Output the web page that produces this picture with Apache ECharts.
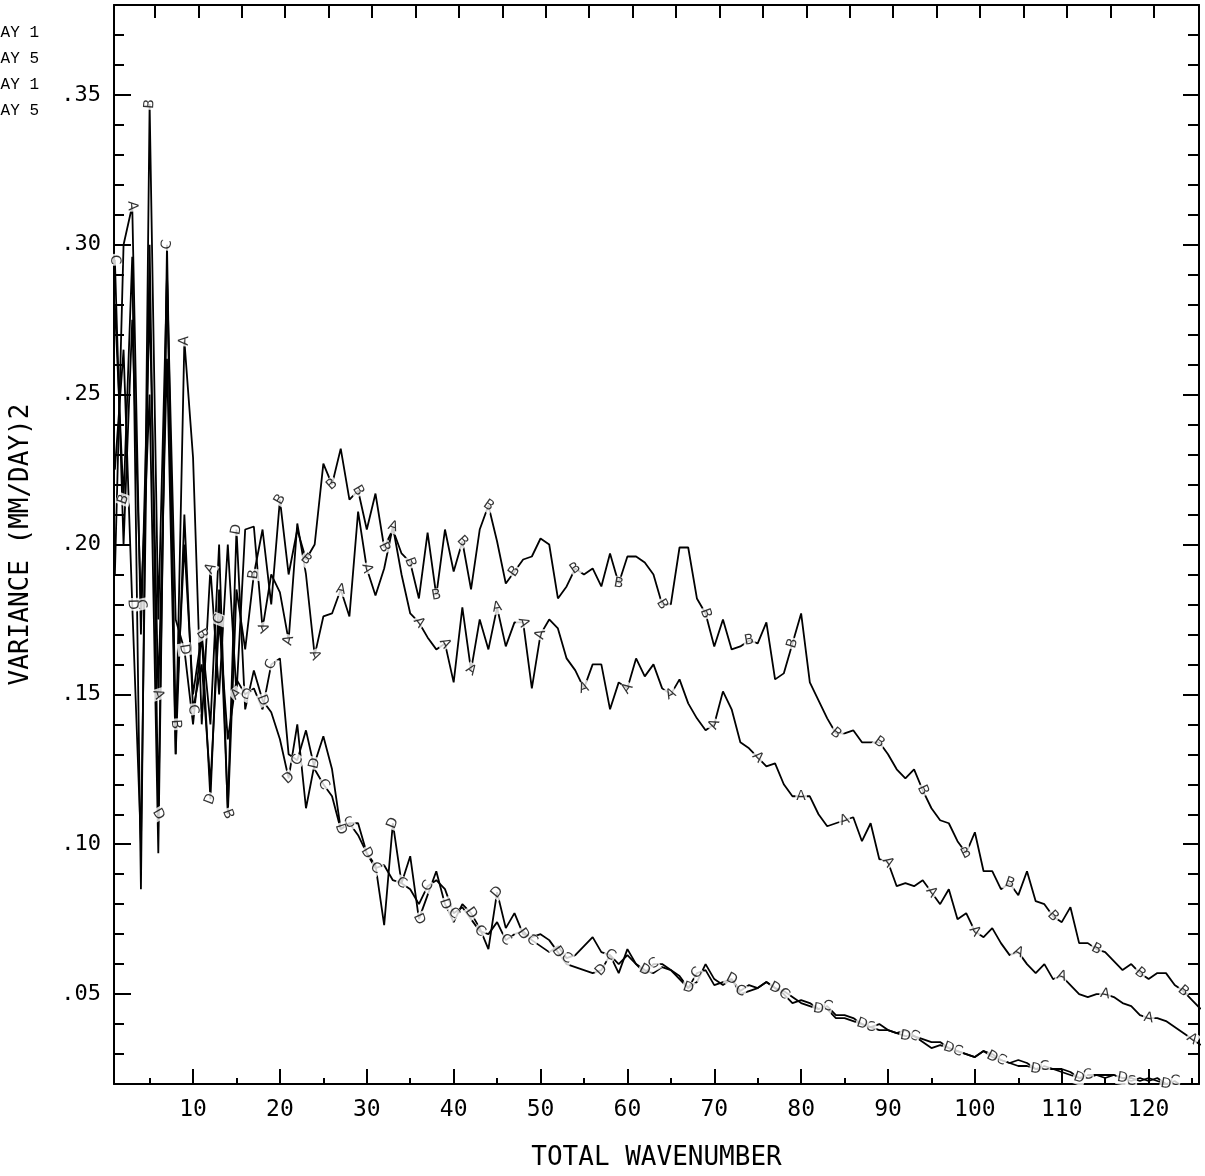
<!DOCTYPE html>
<html>
<head>
<meta charset="utf-8">
<title>Variance vs total wavenumber</title>
<script src="https://cdn.jsdelivr.net/npm/echarts@6.0.0/dist/echarts.min.js"></script>
<style>
  html, body { margin: 0; padding: 0; background: #fff; }
  #chart { width: 1205px; height: 1176px; }
</style>
</head>
<body>
<div id="chart"></div>
<script>
// variance per total wavenumber n = 1 .. 126
const seriesA = [
  0.190, 0.300, 0.313, 0.170, 0.280, 0.150, 0.262, 0.130, 0.268, 0.229,
  0.140, 0.192, 0.150, 0.200, 0.150, 0.205, 0.206, 0.172, 0.190, 0.184,
  0.168, 0.207, 0.190, 0.163, 0.176, 0.177, 0.185, 0.176, 0.211, 0.192,
  0.183, 0.192, 0.206, 0.190, 0.177, 0.174, 0.169, 0.165, 0.167, 0.154,
  0.179, 0.158, 0.175, 0.165, 0.179, 0.166, 0.174, 0.174, 0.152, 0.170,
  0.175, 0.172, 0.162, 0.158, 0.152, 0.160, 0.160, 0.145, 0.154, 0.152,
  0.162, 0.156, 0.160, 0.152, 0.150, 0.155, 0.147, 0.142, 0.138, 0.140,
  0.151, 0.145, 0.134, 0.132, 0.129, 0.126, 0.127, 0.120, 0.116, 0.116,
  0.116, 0.110, 0.106, 0.107, 0.108, 0.109, 0.101, 0.107, 0.095, 0.094,
  0.086, 0.087, 0.086, 0.088, 0.084, 0.080, 0.085, 0.075, 0.077, 0.071,
  0.069, 0.072, 0.067, 0.063, 0.064, 0.060, 0.057, 0.060, 0.055, 0.056,
  0.053, 0.050, 0.049, 0.050, 0.050, 0.049, 0.047, 0.046, 0.043, 0.042,
  0.042, 0.041, 0.039, 0.037, 0.035, 0.033
];
const seriesB = [
  0.280, 0.215, 0.296, 0.085, 0.347, 0.175, 0.290, 0.140, 0.200, 0.150,
  0.170, 0.140, 0.200, 0.110, 0.185, 0.165, 0.190, 0.205, 0.180, 0.215,
  0.190, 0.205, 0.195, 0.200, 0.227, 0.220, 0.232, 0.215, 0.218, 0.205,
  0.217, 0.199, 0.205, 0.197, 0.194, 0.182, 0.204, 0.183, 0.205, 0.191,
  0.201, 0.185, 0.205, 0.213, 0.201, 0.187, 0.191, 0.195, 0.196, 0.202,
  0.200, 0.182, 0.186, 0.192, 0.190, 0.192, 0.186, 0.197, 0.187, 0.196,
  0.196, 0.194, 0.190, 0.180, 0.180, 0.199, 0.199, 0.182, 0.177, 0.166,
  0.175, 0.165, 0.166, 0.168, 0.167, 0.174, 0.155, 0.157, 0.167, 0.177,
  0.154, 0.148, 0.142, 0.137, 0.137, 0.138, 0.134, 0.134, 0.134, 0.130,
  0.125, 0.122, 0.125, 0.118, 0.112, 0.108, 0.107, 0.101, 0.097, 0.104,
  0.091, 0.091, 0.085, 0.087, 0.083, 0.091, 0.081, 0.080, 0.076, 0.074,
  0.079, 0.067, 0.067, 0.065, 0.064, 0.061, 0.058, 0.060, 0.057, 0.055,
  0.057, 0.057, 0.053, 0.051, 0.048, 0.045
];
const seriesC = [
  0.295, 0.200, 0.275, 0.180, 0.250, 0.097, 0.300, 0.130, 0.210, 0.145,
  0.160, 0.120, 0.175, 0.135, 0.155, 0.150, 0.152, 0.145, 0.160, 0.162,
  0.130, 0.128, 0.138, 0.125, 0.120, 0.116, 0.105, 0.107, 0.107, 0.097,
  0.092, 0.093, 0.088, 0.087, 0.085, 0.080, 0.086, 0.088, 0.085, 0.077,
  0.079, 0.075, 0.071, 0.070, 0.074, 0.068, 0.070, 0.071, 0.068, 0.066,
  0.064, 0.066, 0.062, 0.063, 0.066, 0.069, 0.064, 0.063, 0.060, 0.063,
  0.060, 0.057, 0.060, 0.060, 0.058, 0.055, 0.052, 0.057, 0.058, 0.053,
  0.054, 0.055, 0.051, 0.053, 0.052, 0.054, 0.052, 0.050, 0.047, 0.048,
  0.047, 0.045, 0.046, 0.043, 0.043, 0.042, 0.040, 0.039, 0.040, 0.038,
  0.037, 0.038, 0.036, 0.035, 0.034, 0.034, 0.032, 0.031, 0.030, 0.029,
  0.031, 0.030, 0.028, 0.027, 0.028, 0.027, 0.025, 0.026, 0.025, 0.024,
  0.023, 0.022, 0.023, 0.023, 0.022, 0.023, 0.022, 0.021, 0.022, 0.021,
  0.022, 0.020, 0.021, 0.019, 0.018, 0.017
];
const seriesD = [
  0.225, 0.265, 0.180, 0.100, 0.300, 0.110, 0.290, 0.175, 0.165, 0.140,
  0.170, 0.115, 0.185, 0.112, 0.205, 0.145, 0.158, 0.148, 0.144, 0.135,
  0.122, 0.140, 0.112, 0.127, 0.136, 0.125, 0.105, 0.107, 0.103, 0.097,
  0.093, 0.073, 0.107, 0.087, 0.096, 0.075, 0.083, 0.091, 0.080, 0.074,
  0.080, 0.077, 0.072, 0.065, 0.084, 0.072, 0.077, 0.070, 0.069, 0.070,
  0.068, 0.064, 0.060, 0.059, 0.058, 0.057, 0.058, 0.063, 0.057, 0.065,
  0.060, 0.058, 0.057, 0.059, 0.058, 0.056, 0.052, 0.054, 0.060, 0.055,
  0.053, 0.055, 0.050, 0.051, 0.052, 0.054, 0.052, 0.051, 0.049, 0.047,
  0.046, 0.045, 0.045, 0.042, 0.042, 0.041, 0.040, 0.039, 0.038, 0.038,
  0.037, 0.036, 0.036, 0.034, 0.032, 0.033, 0.032, 0.031, 0.030, 0.029,
  0.031, 0.029, 0.028, 0.027, 0.026, 0.026, 0.025, 0.025, 0.025, 0.025,
  0.024, 0.022, 0.022, 0.023, 0.023, 0.023, 0.022, 0.022, 0.021, 0.022,
  0.021, 0.020, 0.020, 0.019, 0.019, 0.018
];
const seriesLetters = ['A', 'B', 'C', 'D'];
const legendLines = ['DAY 1', 'DAY 5', 'DAY 1', 'DAY 5'];
const xTickLabels = [10, 20, 30, 40, 50, 60, 70, 80, 90, 100, 110, 120];
const yTickLabels = [0.05, 0.10, 0.15, 0.20, 0.25, 0.30, 0.35];

const X_MIN = 0.9, X_MAX = 125.8, Y_MIN = 0.02, Y_MAX = 0.38;

// minor tick positions
const xMinorTicks = [];
for (let v = 5; v <= 125; v += 10) xMinorTicks.push(v);
const topTicks = [];
for (let k = 1; k <= 24; k++) topTicks.push(k * 5 + 0.6);
const yMinorTicks = [];
for (let k = 2; k <= 38; k++) {
    if (k % 5 !== 0) yMinorTicks.push(k / 100);
}

const chart = echarts.init(document.getElementById('chart'));

const black = '#000';
const labelFont = 'DejaVu Sans Mono';
const allSeries = [seriesA, seriesB, seriesC, seriesD];

// pixel scale used only to tilt the letters along the curve
const pxPerX = 1086 / (X_MAX - X_MIN);
const pxPerY = 1084 / (Y_MAX - Y_MIN);

function lineSeries(values, i) {
    return {
        name: seriesLetters[i],
        type: 'line',
        data: values.map((v, k) => [k + 1, v]),
        symbol: 'none',
        lineStyle: { color: black, width: 1.8 },
        z: 2,
        animation: false
    };
}

function letterSeries(values, i) {
    const items = [];
    values.forEach((v, k) => {
        const n = k + 1;
        const step = n < 50 ? 3 : 5;
        if ((n + i) % step !== 0) return;
        const prev = values[Math.max(k - 1, 0)];
        const next = values[Math.min(k + 1, values.length - 1)];
        const dy = (next - prev) * pxPerY;
        const dx = 2 * pxPerX;
        const angle = Math.atan2(dy, dx) * 180 / Math.PI;
        items.push({ value: [n, v], label: { rotate: Math.round(angle) } });
    });
    return {
        name: seriesLetters[i] + '-marks',
        type: 'scatter',
        data: items,
        symbolSize: 1,
        itemStyle: { color: 'rgba(0,0,0,0)' },
        label: {
            show: true,
            position: 'inside',
            formatter: seriesLetters[i],
            fontFamily: 'DejaVu Sans',
            fontSize: 14,
            color: black,
            backgroundColor: '#fff',
            padding: [0, 1]
        },
        z: 3,
        animation: false
    };
}

const baseX = { type: 'value', min: X_MIN, max: X_MAX, splitLine: { show: false } };
const baseY = { type: 'value', min: Y_MIN, max: Y_MAX, splitLine: { show: false } };
const axisLine = { show: true, lineStyle: { color: black, width: 2 } };

const option = {
    backgroundColor: '#fff',
    animation: false,
    grid: { left: 113, top: 5, width: 1086, height: 1084 },
    xAxis: [
        Object.assign({}, baseX, {
            position: 'bottom',
            axisLine: axisLine,
            axisTick: { show: true, inside: true, length: 15, customValues: xTickLabels, lineStyle: { color: black, width: 2 } },
            axisLabel: { customValues: xTickLabels, margin: 15, fontFamily: labelFont, fontSize: 23, color: black },
            name: 'TOTAL WAVENUMBER',
            nameLocation: 'middle',
            nameGap: 61,
            nameTextStyle: { fontFamily: labelFont, fontSize: 26, color: black, verticalAlign: 'top' }
        }),
        Object.assign({}, baseX, {
            position: 'bottom',
            axisLine: { show: false },
            axisTick: { show: true, inside: true, length: 6, customValues: xMinorTicks, lineStyle: { color: black, width: 2 } },
            axisLabel: { show: false }
        }),
        Object.assign({}, baseX, {
            position: 'top',
            axisLine: axisLine,
            axisTick: { show: true, inside: true, length: 13, customValues: topTicks, lineStyle: { color: black, width: 2 } },
            axisLabel: { show: false }
        })
    ],
    yAxis: [
        Object.assign({}, baseY, {
            position: 'left',
            axisLine: axisLine,
            axisTick: { show: true, inside: true, length: 17, customValues: yTickLabels, lineStyle: { color: black, width: 2 } },
            axisLabel: {
                customValues: yTickLabels,
                margin: 13,
                fontFamily: labelFont,
                fontSize: 22,
                color: black,
                formatter: v => v.toFixed(2).replace(/^0/, '')
            },
            name: 'VARIANCE (MM/DAY)2',
            nameLocation: 'middle',
            nameGap: 80,
            nameRotate: 90,
            nameTextStyle: { fontFamily: labelFont, fontSize: 26, color: black }
        }),
        Object.assign({}, baseY, {
            position: 'left',
            axisLine: { show: false },
            axisTick: { show: true, inside: true, length: 10, customValues: yMinorTicks, lineStyle: { color: black, width: 2 } },
            axisLabel: { show: false }
        }),
        Object.assign({}, baseY, {
            position: 'right',
            axisLine: axisLine,
            axisTick: { show: true, inside: true, length: 16, customValues: yTickLabels, lineStyle: { color: black, width: 2 } },
            axisLabel: { show: false }
        }),
        Object.assign({}, baseY, {
            position: 'right',
            axisLine: { show: false },
            axisTick: { show: true, inside: true, length: 11, customValues: yMinorTicks, lineStyle: { color: black, width: 2 } },
            axisLabel: { show: false }
        })
    ],
    graphic: legendLines.map((t, i) => ({
        type: 'text',
        x: 39,
        y: 33 + i * 26,
        style: {
            text: t,
            align: 'right',
            verticalAlign: 'middle',
            font: '16px "Liberation Mono"',
            fill: black
        }
    })),
    series: allSeries.map(lineSeries).concat(allSeries.map(letterSeries))
};

chart.setOption(option);

window.addEventListener('resize', _ => {
    chart.resize();
});
</script>
</body>
</html>
